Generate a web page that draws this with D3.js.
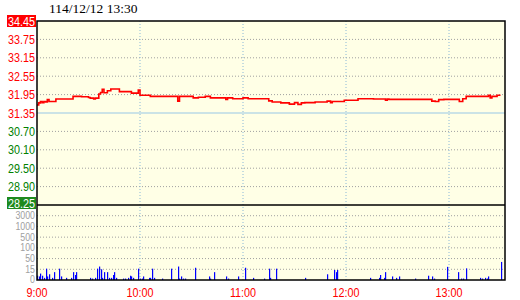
<html lang="zh-Hant">
<head>
<meta charset="utf-8">
<title>分時走勢</title>
<style>
  body { margin: 0; background: #fff; }
  svg { display: block; }
  .lbl { font-family: "Liberation Sans", Arial, sans-serif; font-size: 13px; }
  .vlbl { font-size: 10px; fill: #a0a0a0; }
  .title { font-family: "Liberation Serif", serif; font-size: 13.5px; }
</style>
</head>
<body>
<svg id="chart" width="520" height="300"></svg>
<script src="https://d3js.org/d3.v7.min.js"></script>
<script>
// panel edges
var plotLeft = 37, plotRight = 505, plotTop = 21, plotMid = 205, plotBottom = 280;
var squeeze = 0.83; // labels in the original are a narrow bitmap font

var titleText = "114/12/12 13:30";
var refPrice = 31.35;
var priceGrid = [34.45, 33.83, 33.21, 32.59, 31.97, 31.35, 30.73, 30.11, 29.49, 28.87, 28.25];
var priceLabels = ["34.45", "33.75", "33.15", "32.55", "31.95", "31.35", "30.70", "30.10", "29.50", "28.90", "28.25"];
var volGrid = [0, 15, 50, 100, 500, 1000, 3000, 5000];
var volLabels = ["0", "15", "50", "100", "500", "1000", "3000"];
var timeTicks = [0, 60, 120, 180, 240];
var timeLabels = ["9:00", "10:00", "11:00", "12:00", "13:00"];

// minutes after 9:00
var priceMinutes = [0, 1, 2, 3, 4, 5, 6, 7, 11, 21, 26, 30, 31, 33, 34, 36, 37, 38, 39, 41, 43, 48, 55, 59, 60, 66, 82, 83,
  91, 94, 98, 101, 110, 111, 114, 120, 123, 135, 137, 142, 147, 150, 152, 154, 156, 162, 169, 171, 172, 179, 187, 196,
  203, 204, 205, 230, 232, 234, 237, 246, 248, 250, 263, 264, 265, 268, 270];
var prices = [31.62, 31.69, 31.74, 31.70, 31.74, 31.72, 31.80, 31.74, 31.82, 31.91, 31.90, 31.87, 31.85, 31.82, 31.85,
  31.99, 32.04, 32.15, 32.03, 32.10, 32.16, 32.07, 32.02, 32.12, 31.95, 31.91, 31.75, 31.91,
  31.86, 31.88, 31.91, 31.86, 31.81, 31.86, 31.83, 31.86, 31.83, 31.76, 31.72, 31.69, 31.65, 31.70, 31.64, 31.69, 31.70,
  31.72, 31.75, 31.70, 31.74, 31.78, 31.83, 31.82, 31.78, 31.82, 31.81, 31.75, 31.74, 31.80, 31.81, 31.74, 31.83, 31.91,
  31.95, 31.86, 31.91, 31.95, 31.95];

var volMinutes = [0, 1, 2, 3, 4, 5, 6, 7, 9, 10, 13, 14, 17, 20, 21, 22, 23, 31, 32, 34, 35, 36, 37, 38, 39, 41, 42, 43,
  44, 45, 46, 50, 51, 53, 54, 55, 56, 59, 60, 61, 62, 65, 66, 67, 68, 73, 78, 82, 83, 84, 85, 86, 92, 100, 101, 103, 110,
  111, 117, 121, 126, 132, 135, 136, 139, 156, 169, 173, 174, 175, 194, 199, 200, 202, 203, 207, 209, 211, 220, 228, 230,
  231, 239, 245, 247, 248, 250, 258, 259, 261, 262, 263, 270];
var volumes = [6, 5, 9, 6, 3, 17, 5, 8, 3, 11, 17, 5, 3, 3, 11, 7, 11, 3, 2, 3, 17, 24, 15, 3, 11, 11, 3, 3,
  7, 11, 3, 2, 2, 3, 6, 5, 3, 17, 2, 2, 5, 3, 3, 17, 3, 2, 17, 24, 2, 5, 2, 2, 20, 5, 2, 11, 5,
  2, 5, 20, 3, 2, 17, 3, 17, 3, 8, 14, 11, 14, 3, 3, 7, 3, 11, 5, 3, 5, 2, 6, 5,
  2, 23, 11, 2, 2, 18, 3, 2, 3, 2, 5, 39];

var svg = d3.select("#chart");

var x = d3.scaleLinear().domain([0, 270]).range([plotLeft, 500.5]);
var y = d3.scaleLinear().domain([28.25, 34.45]).range([plotMid, plotTop]);
var vy = d3.scaleLinear()
    .domain(volGrid)
    .range(volGrid.map((d, i) => plotBottom - i * (plotBottom - plotMid) / (volGrid.length - 1)));

svg.append("rect")
    .attr("x", plotLeft).attr("y", plotTop)
    .attr("width", plotRight - plotLeft).attr("height", plotBottom - plotTop)
    .attr("fill", "#ffffe6");

// price grid
svg.selectAll(".pgrid")
    .data(priceGrid.filter(d => d !== refPrice && d !== 34.45 && d !== 28.25))
    .enter().append("line")
    .attr("x1", plotLeft).attr("x2", plotRight)
    .attr("y1", d => y(d)).attr("y2", d => y(d))
    .attr("stroke", "#a0a0a0").attr("stroke-dasharray", "1,2");

svg.append("line")
    .attr("x1", plotLeft).attr("x2", plotRight)
    .attr("y1", y(refPrice)).attr("y2", y(refPrice))
    .attr("stroke", "#98c8e6").attr("stroke-width", 1.2);

// volume grid
svg.selectAll(".vgrid")
    .data(volGrid.slice(1, 7))
    .enter().append("line")
    .attr("x1", plotLeft).attr("x2", plotRight)
    .attr("y1", d => vy(d)).attr("y2", d => vy(d))
    .attr("stroke", "#a0a0a0").attr("stroke-dasharray", "1,2");

// time grid
svg.selectAll(".tgrid")
    .data(timeTicks.slice(1))
    .enter().append("line")
    .attr("x1", d => x(d)).attr("x2", d => x(d))
    .attr("y1", plotTop).attr("y2", plotBottom)
    .attr("stroke", "#8ab8d8").attr("stroke-dasharray", "1,2");

// volume bars
svg.selectAll(".vbar")
    .data(volMinutes.map((m, i) => ({m: m, v: volumes[i]})))
    .enter().append("rect")
    .attr("x", d => Math.round(x(d.m)))
    .attr("width", 1.2)
    .attr("y", d => vy(d.v))
    .attr("height", d => plotBottom - vy(d.v))
    .attr("fill", "#0000ff");

// price line
var line = d3.line()
    .x(d => x(d[0]))
    .y(d => y(d[1]))
    .curve(d3.curveStepAfter);
svg.append("path")
    .datum(priceMinutes.map((m, i) => [m, prices[i]]))
    .attr("d", line)
    .attr("fill", "none")
    .attr("stroke", "#ff0000")
    .attr("stroke-width", 1.6);

// frame
svg.append("rect")
    .attr("x", plotLeft).attr("y", plotTop)
    .attr("width", plotRight - plotLeft).attr("height", plotBottom - plotTop)
    .attr("fill", "none").attr("stroke", "#000").attr("stroke-width", 1.5);
svg.append("line")
    .attr("x1", plotLeft).attr("x2", plotRight)
    .attr("y1", plotMid).attr("y2", plotMid)
    .attr("stroke", "#000").attr("stroke-width", 1.5);

// title
svg.append("text")
    .attr("class", "title")
    .attr("x", 49).attr("y", 13)
    .text(titleText);

// badges for limit up / limit down
svg.append("rect").attr("x", 7).attr("y", y(34.45) - 6).attr("width", 29).attr("height", 12).attr("fill", "#ff0000");
svg.append("rect").attr("x", 7).attr("y", y(28.25) - 8).attr("width", 29).attr("height", 12).attr("fill", "#1e8a1e");

svg.selectAll(".plbl")
    .data(priceGrid)
    .enter().append("text")
    .attr("class", "lbl")
    .attr("transform", (d, i) => "translate(35," + (i === priceGrid.length - 1 ? y(d) - 2 : y(d)) + ") scale(" + squeeze + ",1)")
    .attr("dy", "0.36em")
    .attr("text-anchor", "end")
    .attr("fill", (d, i) => (i === 0 || i === priceGrid.length - 1) ? "#ffffff" : (d >= refPrice ? "#ff0000" : "#008000"))
    .text((d, i) => priceLabels[i]);

svg.selectAll(".vlbl")
    .data(volGrid.slice(0, 7))
    .enter().append("text")
    .attr("class", "lbl vlbl")
    .attr("transform", (d, i) => "translate(35," + (i === 0 ? vy(d) - 1 : vy(d)) + ") scale(0.88,1)")
    .attr("dy", "0.36em")
    .attr("text-anchor", "end")
    .text((d, i) => volLabels[i]);

svg.selectAll(".tlbl")
    .data(timeTicks)
    .enter().append("text")
    .attr("class", "lbl")
    .attr("transform", d => "translate(" + x(d) + ",297) scale(" + squeeze + ",1)")
    .attr("text-anchor", "middle")
    .attr("fill", "#ff0000")
    .text((d, i) => timeLabels[i]);
</script>
</body>
</html>
